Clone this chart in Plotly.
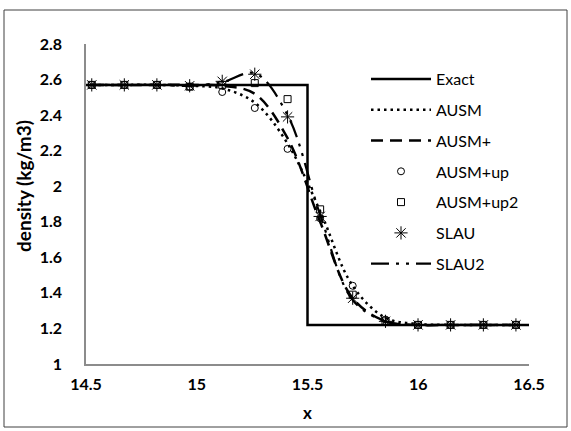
import plotly.graph_objects as go

# ---- data ----
x_pts = [14.526, 14.673, 14.82, 14.968, 15.115, 15.262, 15.41, 15.557,
         15.704, 15.852, 15.999, 16.146, 16.294, 16.441]

exact_x = [14.5, 15.5, 15.5, 16.5]
exact_y = [2.57, 2.57, 1.22, 1.22]

ausm = [2.57, 2.57, 2.57, 2.565, 2.55, 2.47, 2.24, 1.86, 1.44, 1.26, 1.225, 1.22, 1.22, 1.22]
ausm_plus = [2.57, 2.57, 2.57, 2.57, 2.565, 2.52, 2.27, 1.8, 1.37, 1.24, 1.22, 1.22, 1.22, 1.22]
ausm_up = [2.57, 2.57, 2.57, 2.56, 2.53, 2.44, 2.21, 1.82, 1.44, 1.25, 1.22, 1.22, 1.22, 1.22]
ausm_up2 = [2.57, 2.57, 2.57, 2.56, 2.57, 2.58, 2.49, 1.87, 1.39, 1.24, 1.22, 1.22, 1.22, 1.22]
slau = [2.57, 2.57, 2.57, 2.565, 2.59, 2.63, 2.39, 1.83, 1.37, 1.24, 1.22, 1.22, 1.22, 1.22]
slau2 = [2.57, 2.57, 2.57, 2.565, 2.585, 2.635, 2.40, 1.84, 1.36, 1.24, 1.22, 1.22, 1.22, 1.22]

x_ticks = [14.5, 15, 15.5, 16, 16.5]
y_ticks = [1, 1.2, 1.4, 1.6, 1.8, 2, 2.2, 2.4, 2.6, 2.8]

FONT = "Lato, 'Open Sans', sans-serif"

fig = go.Figure()
fig.add_trace(go.Scatter(x=exact_x, y=exact_y, mode="lines", name="Exact", legendgroup="a",
                         line=dict(color="black", width=2.5)))
fig.add_trace(go.Scatter(x=x_pts, y=ausm, mode="lines", name="AUSM", legendgroup="b",
                         line=dict(color="black", width=2.5, dash="2.5px,4px", shape="spline")))
fig.add_trace(go.Scatter(x=x_pts, y=ausm_plus, mode="lines", name="AUSM+", legendgroup="c",
                         line=dict(color="black", width=2.5, dash="12px,7px", shape="spline")))
fig.add_trace(go.Scatter(x=x_pts, y=ausm_up, mode="markers", name="AUSM+up", legendgroup="d",
                         marker=dict(symbol="circle-open", size=7, color="black", line=dict(width=1))))
fig.add_trace(go.Scatter(x=x_pts, y=ausm_up2, mode="markers", name="AUSM+up2", legendgroup="e",
                         marker=dict(symbol="square-open", size=7, color="black", line=dict(width=1))))
fig.add_trace(go.Scatter(x=x_pts, y=slau, mode="markers", name="SLAU", legendgroup="f",
                         marker=dict(symbol="asterisk-open", size=11, color="black", line=dict(width=1, color="black"))))
fig.add_trace(go.Scatter(x=x_pts, y=slau2, mode="lines", name="SLAU2", legendgroup="g",
                         line=dict(color="black", width=2.2, dash="18px,7px,3px,7px,3px,7px", shape="spline")))

L, R, T, B = 86, 42, 44, 67
W, H = 571, 431
pw, ph = W - L - R, H - T - B

def px_x(p):
    return (p - L) / pw

def px_y(p):
    return (H - B - p) / ph

fig.update_layout(
    width=W, height=H,
    margin=dict(l=L, r=R, t=T, b=B),
    paper_bgcolor="white", plot_bgcolor="white",
    font=dict(family=FONT, size=16, color="black"),
    xaxis=dict(range=[14.5, 16.5], tickvals=x_ticks, ticktext=[f"{v:g}" for v in x_ticks],
               showline=True, linecolor="#8c8c8c", linewidth=1.5, showgrid=False, zeroline=False,
               ticks="outside", ticklen=5, tickcolor="rgba(0,0,0,0)",
               tickfont=dict(family=FONT, size=16, weight="bold")),
    yaxis=dict(range=[1, 2.8], tickvals=y_ticks, ticktext=[f"{v:g}" for v in y_ticks],
               showline=True, linecolor="#8c8c8c", linewidth=1.5, showgrid=False, zeroline=False,
               ticks="outside", ticklen=19, tickcolor="rgba(0,0,0,0)",
               tickfont=dict(family=FONT, size=16, weight="bold")),
    legend=dict(x=px_x(366), y=px_y(62), xanchor="left", yanchor="top",
                bgcolor="rgba(0,0,0,0)", font=dict(family=FONT, size=16),
                tracegroupgap=7, itemwidth=60),
    annotations=[
        dict(text="<b>density (kg/m3)</b>", textangle=-90, x=px_x(23), y=px_y(186),
             xanchor="center", yanchor="middle",
             xref="paper", yref="paper", showarrow=False, font=dict(family=FONT, size=19)),
        dict(text="<b>x</b>", x=0.5, y=px_y(412), xanchor="center", yanchor="middle",
             xref="paper", yref="paper", showarrow=False, font=dict(family=FONT, size=17)),
    ],
    shapes=[dict(type="rect", xref="paper", yref="paper",
                 x0=px_x(4), x1=px_x(567), y0=px_y(427), y1=px_y(10),
                 line=dict(color="#404040", width=1))],
)

fig.write_html("out.html", config={"displayModeBar": False},
               post_script="document.body.style.margin='0px';")
